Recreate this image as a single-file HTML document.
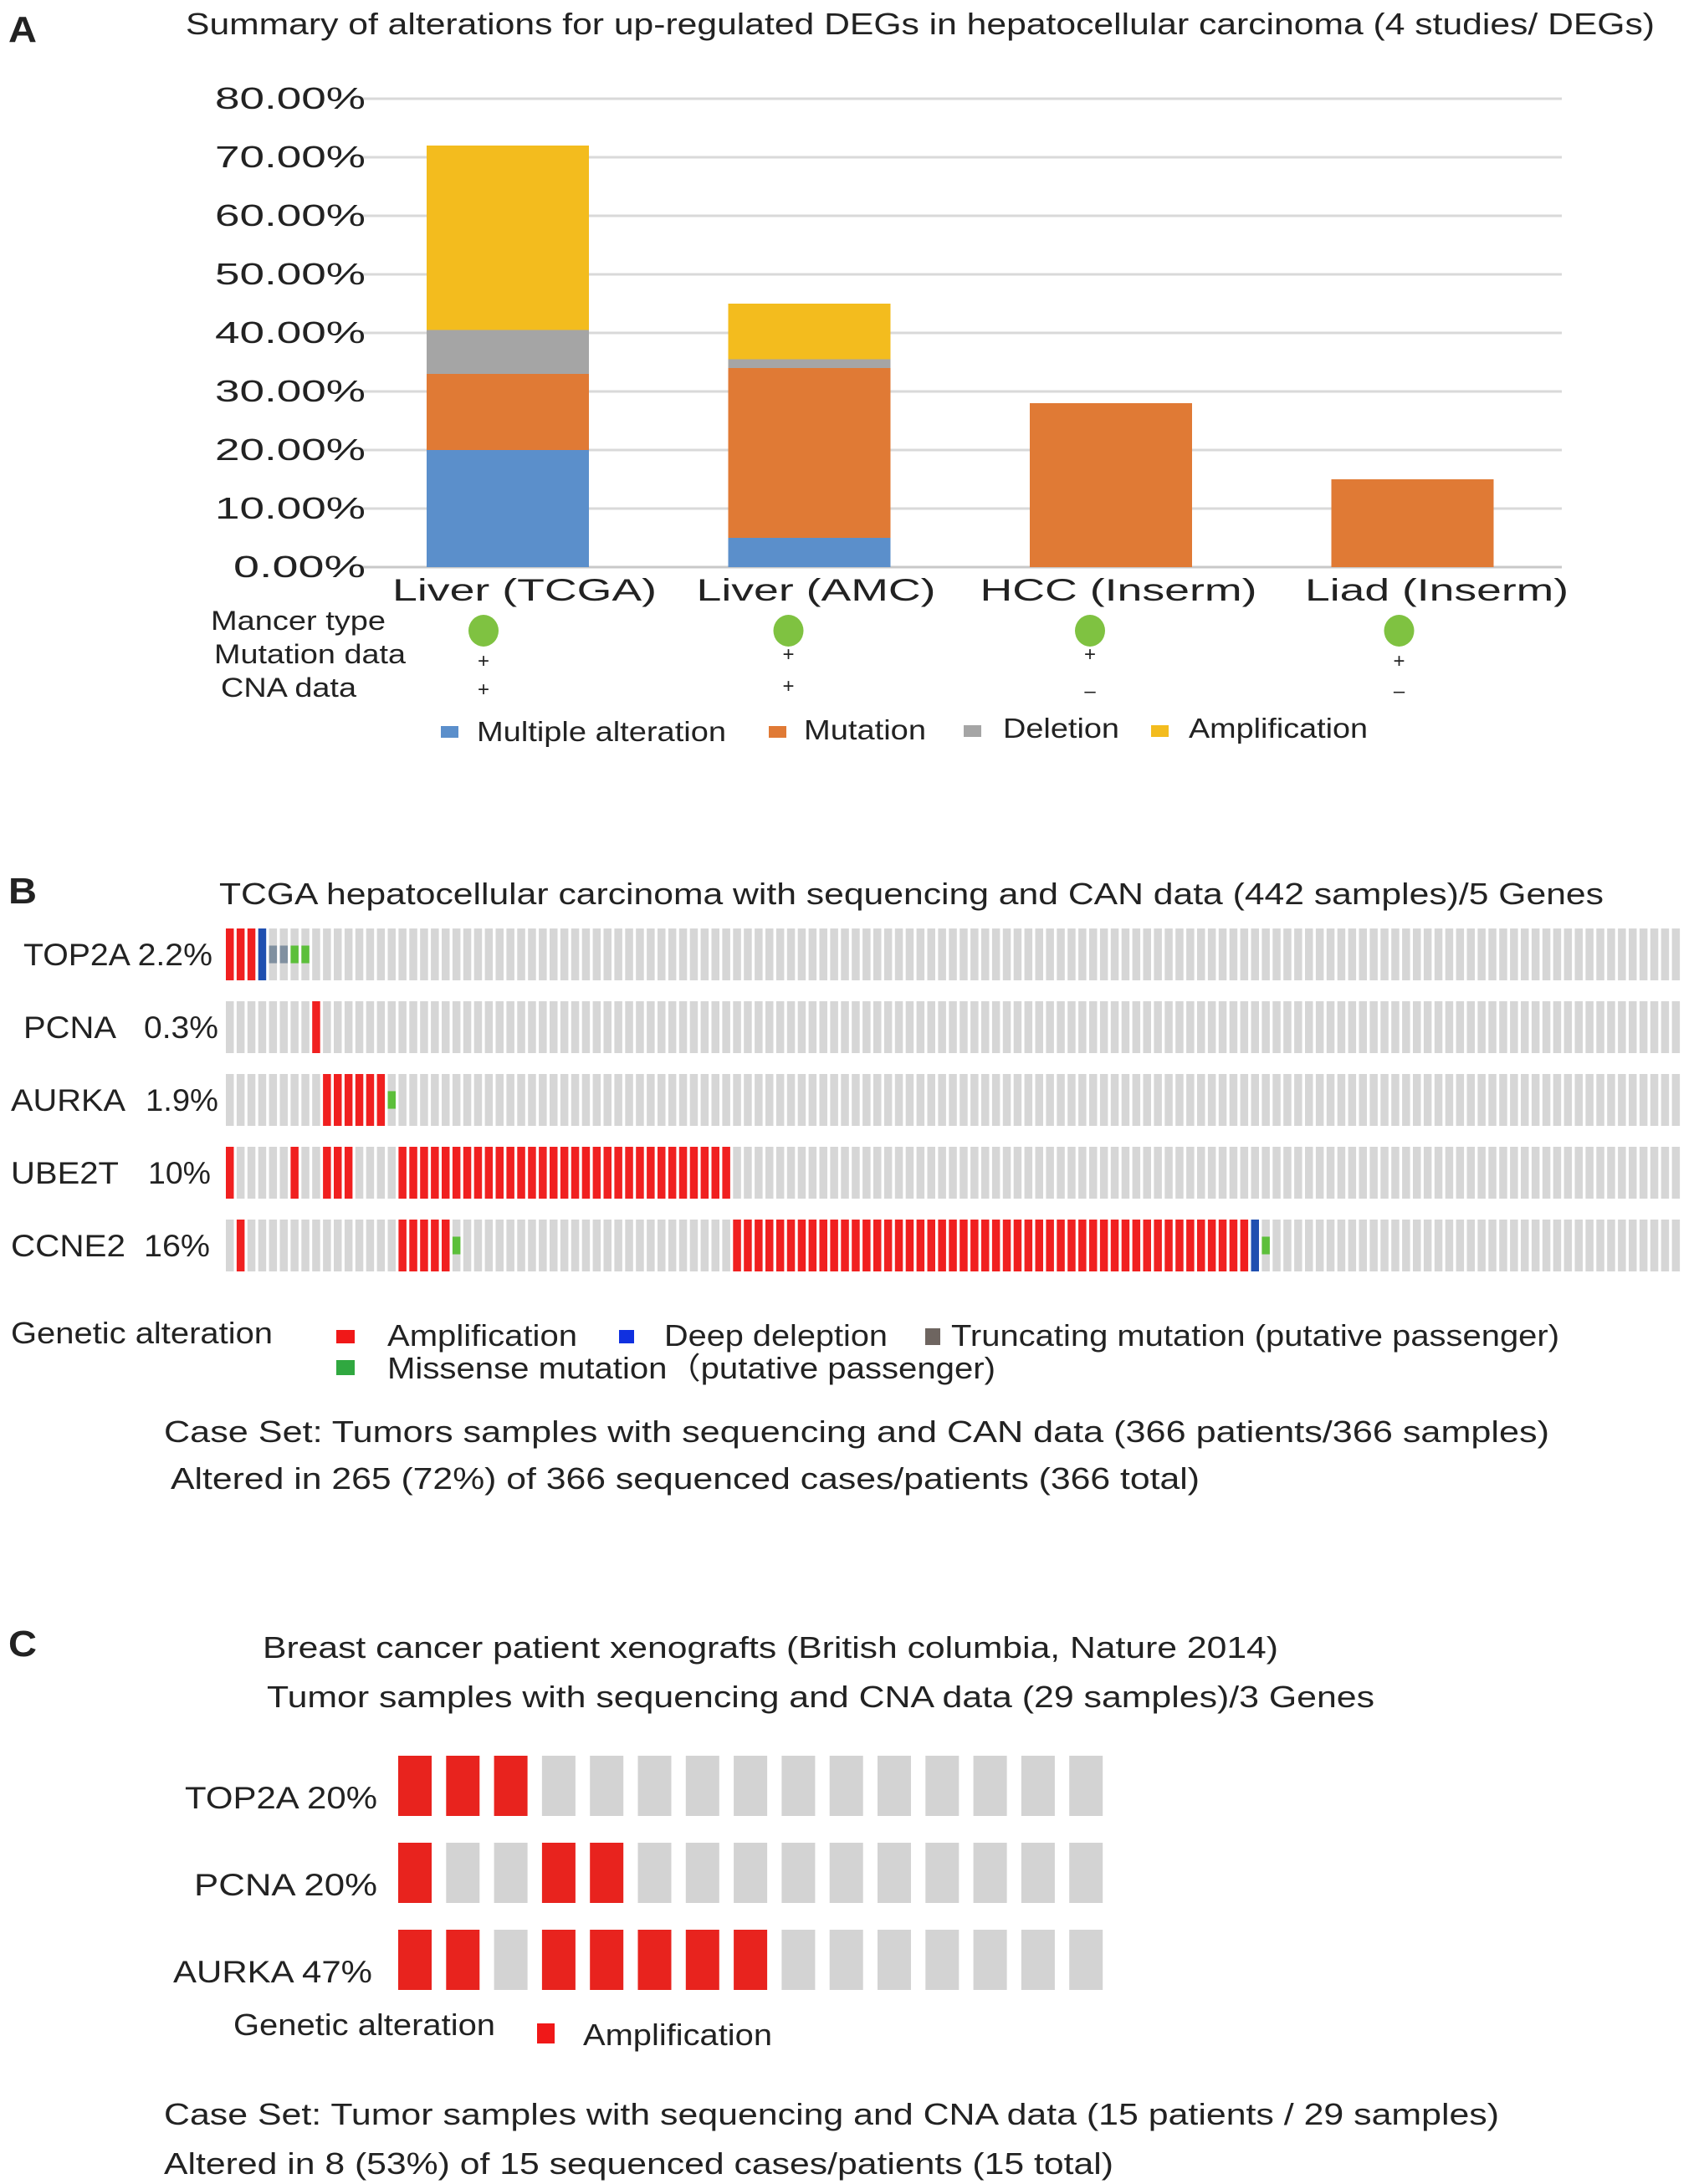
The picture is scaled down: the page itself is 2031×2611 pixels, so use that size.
<!DOCTYPE html>
<html><head><meta charset="utf-8"><style>
html,body{margin:0;padding:0;background:#fff}
svg{display:block}
text{font-family:"Liberation Sans",Arial,sans-serif;fill:#222}
</style></head><body>
<svg id="fig" width="2031" height="2611" viewBox="0 0 2031 2611" xmlns="http://www.w3.org/2000/svg">
<g id="panelA">
<text x="10" y="50" font-size="44" font-weight="bold" fill="#000" textLength="34" lengthAdjust="spacingAndGlyphs">A</text>
<text x="222" y="41" font-size="36" textLength="1756" lengthAdjust="spacingAndGlyphs">Summary of alterations for up-regulated DEGs in hepatocellular carcinoma (4 studies/ DEGs)</text>
<g id="gridA"></g>
<g id="barsA"></g>
<g id="catA"></g>
<text x="252" y="753" font-size="32" textLength="209" lengthAdjust="spacingAndGlyphs">Mancer type</text>
<text x="256" y="793" font-size="32" textLength="229" lengthAdjust="spacingAndGlyphs">Mutation data</text>
<text x="264" y="833" font-size="32" textLength="162" lengthAdjust="spacingAndGlyphs">CNA data</text>
<g id="infoA"></g>
<g>
<rect x="527" y="868" width="21" height="14" fill="#5b8fcb"/>
<text x="570" y="886" font-size="33" textLength="298" lengthAdjust="spacingAndGlyphs">Multiple alteration</text>
<rect x="919" y="868" width="21" height="14" fill="#e07a35"/>
<text x="961" y="884" font-size="33" textLength="146" lengthAdjust="spacingAndGlyphs">Mutation</text>
<rect x="1152" y="867" width="21" height="14" fill="#a5a5a5"/>
<text x="1199" y="882" font-size="33" textLength="139" lengthAdjust="spacingAndGlyphs">Deletion</text>
<rect x="1376" y="867" width="21" height="14" fill="#f3bc1e"/>
<text x="1421" y="882" font-size="33" textLength="214" lengthAdjust="spacingAndGlyphs">Amplification</text>
</g>
</g>

<g id="panelB">
<text x="10" y="1080" font-size="44" font-weight="bold" fill="#000" textLength="34" lengthAdjust="spacingAndGlyphs">B</text>
<text x="262" y="1081" font-size="36" textLength="1655" lengthAdjust="spacingAndGlyphs">TCGA hepatocellular carcinoma with sequencing and CAN data (442 samples)/5 Genes</text>
<g id="oncoB"></g>
<g id="labelsB"></g>
<g>
<text x="13" y="1606" font-size="36" textLength="313" lengthAdjust="spacingAndGlyphs">Genetic alteration</text>
<rect x="402" y="1590" width="22" height="16" fill="#f01818"/>
<text x="463" y="1609" font-size="36" textLength="227" lengthAdjust="spacingAndGlyphs">Amplification</text>
<rect x="740" y="1590" width="18" height="16" fill="#1030e0"/>
<text x="794" y="1609" font-size="36" textLength="267" lengthAdjust="spacingAndGlyphs">Deep deleption</text>
<rect x="1106" y="1588" width="18" height="20" fill="#6e6560"/>
<text x="1137" y="1609" font-size="36" textLength="727" lengthAdjust="spacingAndGlyphs">Truncating mutation (putative passenger)</text>
<rect x="402" y="1626" width="22" height="18" fill="#30a840"/>
<text x="463" y="1648" font-size="36" textLength="727" lengthAdjust="spacingAndGlyphs">Missense mutation（putative passenger)</text>
</g>
<text x="196" y="1724" font-size="36" textLength="1656" lengthAdjust="spacingAndGlyphs">Case Set: Tumors samples with sequencing and CAN data (366 patients/366  samples)</text>
<text x="204" y="1780" font-size="36" textLength="1230" lengthAdjust="spacingAndGlyphs">Altered in 265 (72%) of 366 sequenced cases/patients (366 total)</text>
</g>

<g id="panelC">
<text x="10" y="1980" font-size="44" font-weight="bold" fill="#000" textLength="34" lengthAdjust="spacingAndGlyphs">C</text>
<text x="314" y="1982" font-size="36" textLength="1214" lengthAdjust="spacingAndGlyphs">Breast cancer patient xenografts (British columbia, Nature 2014)</text>
<text x="319" y="2041" font-size="36" textLength="1324" lengthAdjust="spacingAndGlyphs">Tumor samples with sequencing and CNA data (29 samples)/3 Genes</text>
<g id="oncoC"></g>
<g id="labelsC"></g>
<text x="279" y="2433" font-size="36" textLength="313" lengthAdjust="spacingAndGlyphs">Genetic alteration</text>
<rect x="642" y="2419" width="21" height="24" fill="#f01818"/>
<text x="697" y="2445" font-size="36" textLength="226" lengthAdjust="spacingAndGlyphs">Amplification</text>
<text x="196" y="2540" font-size="36" textLength="1596" lengthAdjust="spacingAndGlyphs">Case Set: Tumor samples with sequencing and CNA data (15 patients / 29 samples)</text>
<text x="196" y="2599" font-size="36" textLength="1135" lengthAdjust="spacingAndGlyphs">Altered in 8 (53%) of 15 sequenced cases/patients (15 total)</text>
</g>
</svg>
<script>
// ---- Panel A data ----
const studies = ["Liver (TCGA)", "Liver (AMC)", "HCC (Inserm)", "Liad (Inserm)"];
const multipleAlt = [20, 5, 0, 0];
const mutationVals = [13, 29, 28, 15];
const deletionVals = [7.5, 1.5, 0, 0];
const amplificationVals = [31.5, 9.5, 0, 0];
const yTicks = [0, 10, 20, 30, 40, 50, 60, 70, 80];
const yTickLabels = ["0.00%","10.00%","20.00%","30.00%","40.00%","50.00%","60.00%","70.00%","80.00%"];
const mutationData = ["+", "+", "+", "+"];
const cnaData = ["+", "+", "–", "–"];

// ---- Panel B data (column index lists per gene) ----
const genesB = ["TOP2A","PCNA","AURKA","UBE2T","CCNE2"];
const pctB = ["2.2%","0.3%","1.9%","10%","16%"];
const nColsB = 135;
const ampB = [[0,1,2],[8],[9,10,11,12,13,14],[0,6,9,10,11,"16-46"],[1,16,17,18,19,20,"47-94"]];
const deepB = [[3],[],[],[],[95]];
const truncB = [[4,5],[],[],[],[]];
const missB = [[6,7],[],[15],[],[21,96]];

// ---- Panel C data ----
const genesC = ["TOP2A","PCNA","AURKA"];
const pctC = ["20%","20%","47%"];
const nColsC = 15;
const ampC = [[0,1,2],[0,3,4],[0,1,3,4,5,6,7]];

const NS = "http://www.w3.org/2000/svg";
function mk(tag, attrs, parent){const e=document.createElementNS(NS,tag);for(const k in attrs)e.setAttribute(k,attrs[k]);parent.appendChild(e);return e;}
function expand(list){const out=[];list.forEach(v=>{if(typeof v==="string"){const [a,b]=v.split("-").map(Number);for(let i=a;i<=b;i++)out.push(i);}else out.push(v);});return out;}

// Panel A axes
const y0=678, yPerPct=7.0, plotL=433, plotR=1867;
const yA = v => y0 - v*yPerPct;
const bandL = 510, bandStep = 360.5, barW = 194;
const xA = i => bandL + i*bandStep;
const grid=document.getElementById("gridA");
yTicks.forEach((t,i)=>{
  const ln=mk("line",{x1:plotL,x2:plotR,y1:yA(t),y2:yA(t),stroke:i===0?"#c8c8c8":"#d9d9d9","stroke-width":3},grid);
  
  
  const len = yTickLabels[i].length===5 ? 158 : 180;
  const tx=mk("text",{x:437-len,y:yA(t)+12,"font-size":36,textLength:len,lengthAdjust:"spacingAndGlyphs",fill:"#333"},grid);
  tx.textContent=yTickLabels[i];
  
  
});
const bars=document.getElementById("barsA");
const series=[[multipleAlt,"#5b8fcb","multiple"],[mutationVals,"#e07a35","mutation"],[deletionVals,"#a5a5a5","deletion"],[amplificationVals,"#f3bc1e","amplification"]];
studies.forEach((s,i)=>{
  let base=0;
  series.forEach(([vals,col,nm])=>{
    const v=vals[i]; if(v<=0)return;
    const r=mk("rect",{x:xA(i),y:yA(base+v),width:barW,height:v*yPerPct,fill:col},bars);
    
    
    base+=v;
  });
});
const catLens=[316,286,331,315];
const cat=document.getElementById("catA");
const info=document.getElementById("infoA");
studies.forEach((s,i)=>{
  const cx = xA(i)+barW/2 + [20,8,9,29][i];
  const t=mk("text",{x:cx,y:718,"font-size":37,"text-anchor":"middle",textLength:catLens[i],lengthAdjust:"spacingAndGlyphs",fill:"#333"},cat);
  t.textContent=s;
  
  
  const ox = xA(i)+barW/2 - 24 + [-5,-1,-1,8][i];
  const e=mk("ellipse",{cx:ox,cy:754,rx:18,ry:19,fill:"#7fc241"},info);
  
  
  const p1=mk("text",{x:ox,y:[798,790,790,798][i],"font-size":24,"text-anchor":"middle",fill:"#111"},info);
  p1.textContent=mutationData[i];
  
  
  const p2=mk("text",{x:ox,y:[832,828,834,834][i],"font-size":24,"text-anchor":"middle",fill:"#111"},info);
  p2.textContent=cnaData[i];
  
  
});

// Panel B
const bL=270, bPitch=12.9, bW=9.5;
const rowTopB=[1110,1197,1284,1371,1458], rowH=62;
const xB = c => bL + c*bPitch;
const onco=document.getElementById("oncoB");
const lblB=document.getElementById("labelsB");
const geneLensB=[null,111,137,129,137];
const pctXB=[null,172,174,177,172];
const pctLensB=[null,89,87,75,79];
genesB.forEach((g,r)=>{
  const top=rowTopB[r];
  const amp=new Set(expand(ampB[r])), deep=new Set(deepB[r]), tr=new Set(truncB[r]), ms=new Set(missB[r]);
  for(let c=0;c<nColsB;c++){
    let col="#d6d6d6";
    if(amp.has(c))col="#f02020"; else if(deep.has(c))col="#1f4fb0";
    const rc=mk("rect",{x:xB(c),y:top,width:bW,height:rowH,fill:col},onco);
    
    
    if(tr.has(c)||ms.has(c)){
      const m=mk("rect",{x:xB(c),y:top+rowH*0.33,width:bW,height:rowH*0.34,fill:tr.has(c)?"#8090a0":"#5cbf3a"},onco);
      
      
    }
  }
  const cy=top+rowH/2+13;
  if(r===0){
    const t=mk("text",{x:28,y:cy,"font-size":37,textLength:226,lengthAdjust:"spacingAndGlyphs"},lblB);
    t.textContent=g+" "+pctB[r];
    
    
  } else {
    const t=mk("text",{x:r===1?28:13,y:cy,"font-size":37,textLength:geneLensB[r],lengthAdjust:"spacingAndGlyphs"},lblB);
    t.textContent=g;
    
    
    const p=mk("text",{x:pctXB[r],y:cy,"font-size":37,textLength:pctLensB[r],lengthAdjust:"spacingAndGlyphs"},lblB);
    p.textContent=pctB[r];
    
    
  }
});

// Panel C
const cL=476, cPitch=57.3, cW=40;
const rowTopC=[2099,2203,2307], rowHC=72;
const xC = c => cL + c*cPitch;
const oncoC=document.getElementById("oncoC");
const lblC=document.getElementById("labelsC");
const labelEndC=[451,451,445], labelLenC=[230,219,238];
genesC.forEach((g,r)=>{
  const amp=new Set(ampC[r]);
  for(let c=0;c<nColsC;c++){
    const rc=mk("rect",{x:xC(c),y:rowTopC[r],width:cW,height:rowHC,fill:amp.has(c)?"#e8231e":"#d3d3d3"},oncoC);
    
    
  }
  const t=mk("text",{x:labelEndC[r]-labelLenC[r],y:rowTopC[r]+rowHC/2+27,"font-size":37,textLength:labelLenC[r],lengthAdjust:"spacingAndGlyphs"},lblC);
  t.textContent=g+"  "+pctC[r];
  t.setAttribute('xml:space','preserve');
  
  
});
</script>
</body></html>
